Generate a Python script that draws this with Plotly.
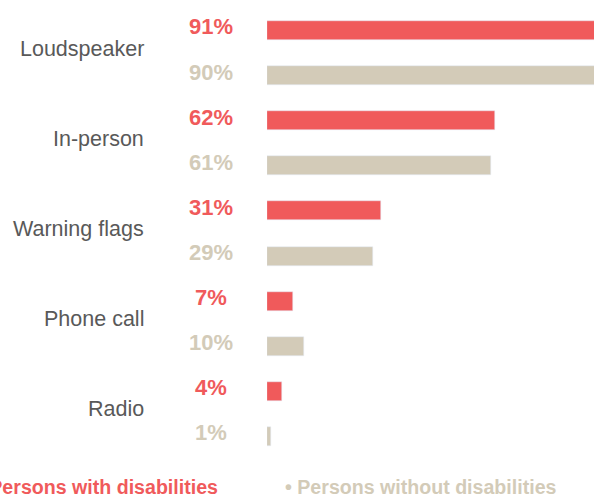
import plotly.graph_objects as go

categories = ["Loudspeaker", "In-person", "Warning flags", "Phone call", "Radio"]
with_dis = [91, 62, 31, 7, 4]
without_dis = [90, 61, 29, 10, 1]
series_names = ["Persons with disabilities", "Persons without disabilities"]

RED = "#F05A5B"
BEIGE = "#D3CBB8"
GRAY = "#595959"
FONT = "Arial, Liberation Sans, sans-serif"

W, H = 594, 497
ML, MR, MT, MB = 267, 0, 8, 38
PW = W - ML - MR
PH = H - MT - MB

red_pos = [2 * i for i in range(len(categories))]
beige_pos = [2 * i + 1 for i in range(len(categories))]

fig = go.Figure()
fig.add_trace(go.Bar(x=with_dis, y=red_pos, orientation="h", marker_color=RED,
                     width=0.42, name=series_names[0], showlegend=False, hoverinfo="skip"))
fig.add_trace(go.Bar(x=without_dis, y=beige_pos, orientation="h", marker_color=BEIGE,
                     width=0.42, name=series_names[1], showlegend=False, hoverinfo="skip"))

def px_x(p):
    return (p - ML) / PW

ann = []
for i, c in enumerate(categories):
    ann.append(dict(x=px_x(146), xref="paper", y=2 * i + 0.4, yref="y",
                    text=c, showarrow=False, xanchor="right", yanchor="middle",
                    font=dict(family=FONT, size=21.5, color=GRAY)))
for v, p in zip(with_dis, red_pos):
    ann.append(dict(x=px_x(210.5), xref="paper", y=p - 0.08, yref="y",
                    text=f"<b>{v}%</b>", showarrow=False, xanchor="center", yanchor="middle",
                    font=dict(family=FONT, size=22, color=RED)))
for v, p in zip(without_dis, beige_pos):
    ann.append(dict(x=px_x(210.5), xref="paper", y=p - 0.08, yref="y",
                    text=f"<b>{v}%</b>", showarrow=False, xanchor="center", yanchor="middle",
                    font=dict(family=FONT, size=22, color=BEIGE)))

ly = -(487 - (H - MB)) / PH
ann.append(dict(x=px_x(220), xref="paper", y=ly, yref="paper",
                text=f"<b>• {series_names[0]}</b>", showarrow=False, xanchor="right", yanchor="middle",
                font=dict(family=FONT, size=19.6, color=RED)))
ann.append(dict(x=px_x(283), xref="paper", y=ly, yref="paper",
                text=f"<b>• {series_names[1]}</b>", showarrow=False, xanchor="left", yanchor="middle",
                font=dict(family=FONT, size=19.6, color=BEIGE)))

fig.update_layout(
    width=W, height=H,
    margin=dict(l=ML, r=MR, t=MT, b=MB, pad=0),
    paper_bgcolor="white", plot_bgcolor="white",
    xaxis=dict(range=[0, 89.1], visible=False, fixedrange=True),
    yaxis=dict(range=[9.5, -0.5], visible=False, fixedrange=True),
    annotations=ann,
    bargap=0,
)

fig.write_html(
    "out.html",
    config={"displayModeBar": False},
    post_script="document.body.style.margin='0';document.body.style.overflow='hidden';",
)
